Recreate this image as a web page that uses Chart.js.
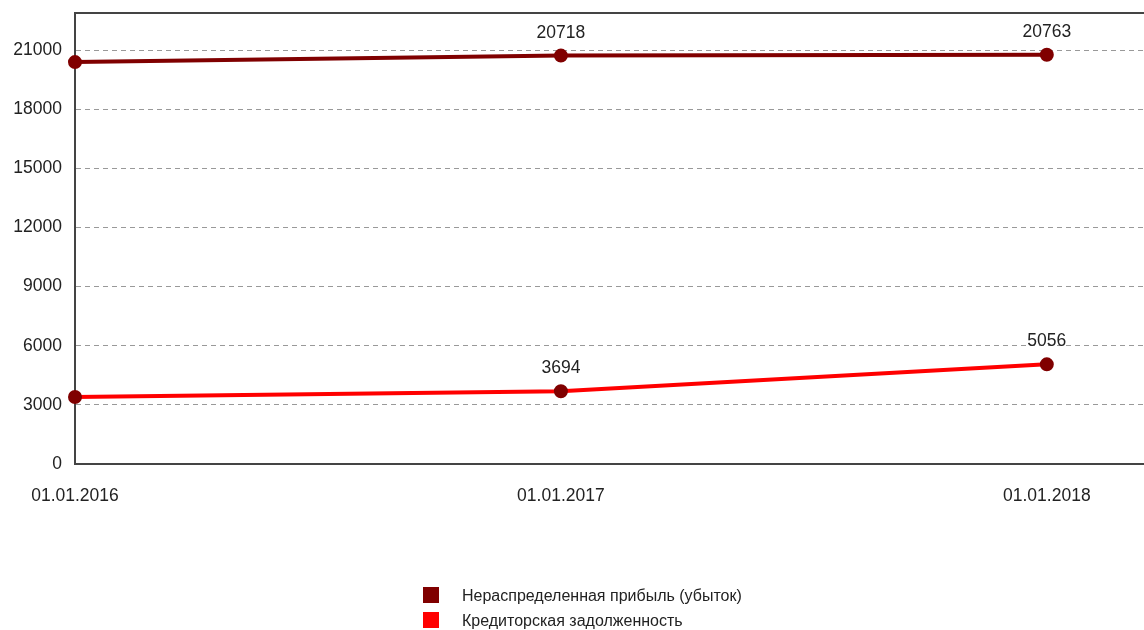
<!DOCTYPE html>
<html>
<head>
<meta charset="utf-8">
<script src="https://cdn.jsdelivr.net/npm/chart.js@4/dist/chart.umd.min.js"></script>
<style>
  body { margin: 0; background: #fff; overflow: hidden; }
  #wrap { position: relative; width: 1144px; height: 630px; }
  #legend { position: absolute; left: 423px; top: 587px; font: 16px "Liberation Sans", Arial, sans-serif; color: #222; }
  #legend div { height: 25px; line-height: 18px; white-space: nowrap; }
  #legend span { display: inline-block; width: 16px; height: 16px; vertical-align: top; margin-right: 23px; }
</style>
</head>
<body>
<div id="wrap">
  <canvas id="myChart" width="1144" height="630"></canvas>
  <div id="legend"></div>
</div>
<script>
Chart.defaults.font.family = '"Liberation Sans", Arial, sans-serif';
Chart.defaults.font.size = 17.5;
Chart.defaults.color = '#222';

// DATA
const dates = ['01.01.2016', '01.01.2017', '01.01.2018'];
const profit = [20390, 20718, 20763];
const payables = [3400, 3694, 5056];
const seriesNames = ['Нераспределенная прибыль (убыток)', 'Кредиторская задолженность'];
const seriesColors = ['#800000', '#ff0000'];
const yTicks = [0, 3000, 6000, 9000, 12000, 15000, 18000, 21000];
// labels are only shown for these points
const labelled = [1, 2];

const toPoints = arr => arr.map((v, i) => ({ x: i, y: v }));

// legend
const legend = document.getElementById('legend');
seriesNames.forEach((n, i) => {
    const row = document.createElement('div');
    row.innerHTML = '<span style="background:' + seriesColors[i] + '"></span>' + n;
    legend.appendChild(row);
});

// point values above markers + top frame line
const valueLabels = {
    id: 'valueLabels',
    afterDatasetsDraw(chart) {
        const ctx = chart.ctx;
        const area = chart.chartArea;
        ctx.save();
        ctx.strokeStyle = '#444';
        ctx.lineWidth = 2;
        ctx.beginPath();
        ctx.moveTo(area.left, area.top);
        ctx.lineTo(area.right, area.top);
        ctx.stroke();

        ctx.fillStyle = '#222';
        ctx.font = '17.5px "Liberation Sans", Arial, sans-serif';
        ctx.textAlign = 'center';
        ctx.textBaseline = 'bottom';
        chart.data.datasets.forEach((ds, di) => {
            const meta = chart.getDatasetMeta(di);
            meta.data.forEach((pt, i) => {
                if (!labelled.includes(i)) return;
                ctx.fillText(String(ds.data[i].y), pt.x, pt.y - 14);
            });
        });
        ctx.restore();
    }
};

var ctx = document.getElementById('myChart').getContext('2d');
new Chart(ctx, {
    type: 'line',
    data: {
        datasets: [{
            label: seriesNames[0],
            data: toPoints(profit),
            borderColor: seriesColors[0],
            borderWidth: 4,
            pointBackgroundColor: '#800000',
            pointBorderColor: '#800000',
            pointRadius: 5,
            clip: false
        },
        {
            label: seriesNames[1],
            data: toPoints(payables),
            borderColor: seriesColors[1],
            borderWidth: 4,
            pointBackgroundColor: '#800000',
            pointBorderColor: '#800000',
            pointRadius: 5,
            clip: false
        }]
    },
    options: {
        responsive: false,
        animation: false,
        layout: { autoPadding: false, padding: { top: 13, left: 0, right: 0, bottom: 0 } },
        plugins: {
            legend: { display: false },
            tooltip: { enabled: false }
        },
        scales: {
            x: {
                type: 'linear',
                min: 0,
                max: 2.2,
                afterBuildTicks: s => { s.ticks = dates.map((d, i) => ({ value: i })); },
                afterFit: s => { s.height = 166; },
                ticks: {
                    padding: 14,
                    maxRotation: 0,
                    callback: v => dates[v]
                },
                grid: { display: false },
                border: { color: '#444', width: 2 }
            },
            y: {
                min: 0,
                max: 22880,
                afterBuildTicks: s => { s.ticks = yTicks.map(v => ({ value: v })); },
                afterFit: s => { s.width = 75; s.paddingTop = 0; s.paddingBottom = 0; },
                ticks: { padding: 13, callback: v => String(v) },
                grid: { color: '#999', lineWidth: 1, drawTicks: false },
                border: { color: '#444', width: 2, dash: [5, 4] }
            }
        }
    },
    plugins: [valueLabels]
});
</script>
</body>
</html>
